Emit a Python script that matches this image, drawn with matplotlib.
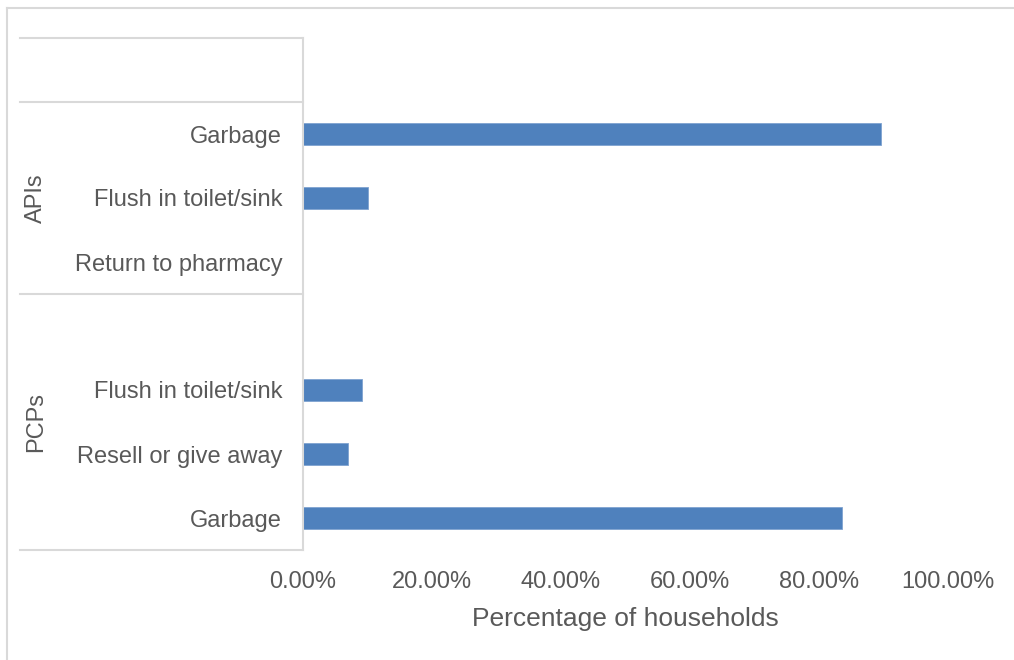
import numpy as np
import matplotlib
matplotlib.use('Agg')
import matplotlib.pyplot as plt
from matplotlib.lines import Line2D

# categories from bottom to top, grouped as in the source chart
labels = ['Garbage', 'Resell or give away', 'Flush in toilet/sink', '',
          'Return to pharmacy', 'Flush in toilet/sink', 'Garbage',
          '']
values = [83.6, 6.9, 9.15, np.nan,
          0.0, 10.1, 89.6,
          np.nan]
groups = ['PCPs', 'APIs', '']
group_sizes = [4, 3, 1]
xticks = [0, 20, 40, 60, 80, 100]

W, H = 1014, 660
grey = '#595959'
line_grey = '#D9D9D9'
bar_blue = '#4F81BD'

plt.rcParams['font.family'] = ['Liberation Sans', 'DejaVu Sans']

fig = plt.figure(figsize=(W / 100, H / 100), dpi=100)
ax = fig.add_axes([303 / W, (H - 550) / H, (948 - 303) / W, (550 - 38) / H])

y = np.arange(len(labels))
ax.barh(y, np.nan_to_num(values), height=0.35, color=bar_blue,
        edgecolor='#7FA3D0', linewidth=0.6)

ax.set_xlim(0, 100)
ax.set_ylim(-0.5, len(labels) - 0.5)
ax.set_xticks(xticks)
ax.set_xticklabels(['%.2f%%' % v for v in xticks], fontsize=17, color=grey)
ax.set_yticks(y)
ax.set_yticklabels(labels, fontsize=17, color=grey)
ax.tick_params(axis='both', length=0)
ax.tick_params(axis='y', pad=15)
ax.tick_params(axis='x', pad=15)
ax.set_xlabel('Percentage of households', fontsize=19, color=grey, labelpad=10)

for s in ['top', 'right', 'bottom']:
    ax.spines[s].set_visible(False)
ax.spines['left'].set_color(line_grey)
ax.spines['left'].set_linewidth(1.5)

# grouped category axis: separators and rotated group names
trans = ax.get_yaxis_transform()
x_left = (20 - 303) / (948 - 303)
bounds = np.concatenate([[0], np.cumsum(group_sizes)]) - 0.5
for b in bounds:
    ax.add_line(Line2D([x_left, 0], [b, b], transform=trans, color=line_grey,
                       lw=1.5, clip_on=False))
x_grp = (36 - 303) / (948 - 303)
for name, lo, hi in zip(groups, bounds[:-1], bounds[1:]):
    if name:
        ax.text(x_grp, (lo + hi) / 2, name, transform=trans, rotation=90,
                ha='center', va='center', fontsize=17, color=grey)

# chart border (only top and left are inside the image)
fig.add_artist(Line2D([7 / W, 1], [1 - 8 / H, 1 - 8 / H], color=line_grey, lw=1.5))
fig.add_artist(Line2D([7 / W, 7 / W], [0, 1 - 8 / H], color=line_grey, lw=1.5))

fig.savefig('out.png', dpi=100)
